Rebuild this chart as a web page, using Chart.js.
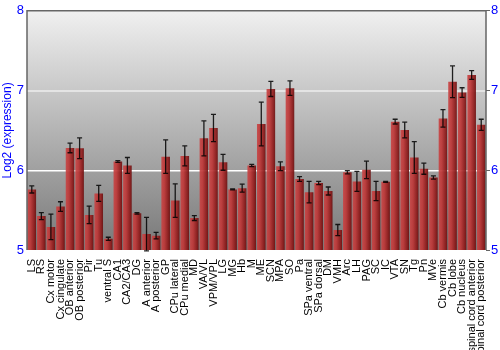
<!DOCTYPE html>
<html>
<head>
<meta charset="utf-8">
<script src="https://cdn.jsdelivr.net/npm/chart.js@4.4.1/dist/chart.umd.min.js"></script>
<style>
  html, body { margin: 0; padding: 0; background: #fff; }
  #wrap { width: 500px; height: 350px; }
</style>
</head>
<body>
<div id="wrap"><canvas id="exprChart"></canvas></div>
<script>
const regions = ['LS', 'RS', 'Cx motor', 'Cx cingulate', 'OB anterior', 'OB posterior', 'Pir', 'Tu',
    'ventral S', 'CA1', 'CA2/CA3', 'DG', 'A anterior', 'A posterior', 'GP', 'CPu lateral', 'CPu medial',
    'MD', 'VA/VL', 'VPM/VPL', 'LG', 'MG', 'Hb', 'M', 'ME', 'SCN', 'MPA', 'SO', 'Pa', 'SPa ventral',
    'SPa dorsal', 'DM', 'VMH', 'Arc', 'LH', 'PAG', 'SC', 'IC', 'VTA', 'SN', 'Tg', 'Pn', 'MVe',
    'Cb vermis', 'Cb lobe', 'Cb nucleus', 'spinal cord anterior', 'spinal cord posterior'];

const expression = [5.76, 5.425, 5.29, 5.545, 6.28, 6.275, 5.44, 5.71,
    5.14, 6.11, 6.06, 5.46, 5.2, 5.18, 6.17, 5.62, 6.18,
    5.4, 6.4, 6.53, 6.1, 5.76, 5.775, 6.06, 6.58, 7.02, 6.05, 7.03, 5.89, 5.725,
    5.84, 5.74, 5.25, 5.975, 5.86, 6.005, 5.74, 5.855, 6.61, 6.505, 6.16, 6.02, 5.91,
    6.65, 7.11, 6.975, 7.195, 6.57];

const errors = [0.045, 0.045, 0.16, 0.06, 0.06, 0.13, 0.11, 0.1,
    0.02, 0.01, 0.1, 0.01, 0.21, 0.04, 0.21, 0.21, 0.125,
    0.03, 0.22, 0.17, 0.1, 0.005, 0.05, 0.015, 0.275, 0.095, 0.055, 0.09, 0.03, 0.135,
    0.02, 0.05, 0.07, 0.02, 0.125, 0.11, 0.12, 0.005, 0.03, 0.1, 0.2, 0.07, 0.02,
    0.11, 0.2, 0.06, 0.055, 0.07];

const yTicks = [5, 6, 7, 8];

// gradient background behind plot
const bgPlugin = {
    id: 'plotBg',
    beforeDraw(chart) {
        const { ctx, chartArea: a } = chart;
        const g = ctx.createLinearGradient(0, a.top, 0, a.bottom);
        g.addColorStop(0, '#f0f0f0');
        g.addColorStop(1, '#787878');
        ctx.save();
        ctx.fillStyle = g;
        ctx.fillRect(a.left, a.top, a.right - a.left, a.bottom - a.top);
        ctx.restore();
    }
};

// error bars + frame
const errPlugin = {
    id: 'errBars',
    afterDatasetsDraw(chart) {
        const { ctx, chartArea: a } = chart;
        const xs = chart.scales.x, ys = chart.scales.y;
        ctx.save();
        ctx.strokeStyle = 'rgba(0,0,0,0.85)';
        ctx.lineWidth = 1.3;
        expression.forEach((v, i) => {
            const x = xs.getPixelForValue(i);
            const y1 = ys.getPixelForValue(v + errors[i]);
            const y2 = ys.getPixelForValue(v - errors[i]);
            ctx.beginPath();
            ctx.moveTo(x, y1); ctx.lineTo(x, y2);
            ctx.moveTo(x - 2.5, y1); ctx.lineTo(x + 2.5, y1);
            ctx.moveTo(x - 2.5, y2); ctx.lineTo(x + 2.5, y2);
            ctx.stroke();
        });
        ctx.strokeStyle = '#666';
        ctx.lineWidth = 1.5;
        ctx.beginPath();
        ctx.moveTo(a.left, a.bottom); ctx.lineTo(a.left, a.top);
        ctx.lineTo(a.right, a.top); ctx.lineTo(a.right, a.bottom);
        ctx.stroke();
        ctx.restore();
    }
};

const barFill = (c) => {
    const chart = c.chart;
    const xs = chart.scales.x;
    if (!xs || !chart.chartArea) return '#a02828';
    const x = xs.getPixelForValue(c.dataIndex);
    const w = (xs.width / regions.length) * 0.9;
    const g = chart.ctx.createLinearGradient(x - w / 2, 0, x + w / 2, 0);
    g.addColorStop(0, 'rgba(200,70,70,0.92)');
    g.addColorStop(0.35, 'rgba(190,55,55,0.92)');
    g.addColorStop(0.8, 'rgba(140,25,25,0.92)');
    g.addColorStop(1, 'rgba(105,15,15,0.92)');
    return g;
};

new Chart(document.getElementById('exprChart'), {
    type: 'bar',
    data: {
        labels: regions,
        datasets: [{
            label: 'Log2 (expression)',
            data: expression,
            backgroundColor: barFill,
            borderWidth: 0,
            barPercentage: 0.9,
            categoryPercentage: 1.0
        }]
    },
    options: {
        responsive: true,
        maintainAspectRatio: false,
        animation: false,
        layout: { padding: { top: 10, left: 0, right: 0, bottom: 0 } },
        plugins: {
            legend: { display: false },
            tooltip: { enabled: false }
        },
        scales: {
            x: {
                grid: { display: false },
                border: { display: false },
                ticks: {
                    color: '#000',
                    font: { family: 'Liberation Sans', size: 11 },
                    minRotation: 90,
                    maxRotation: 90,
                    autoSkip: false,
                    padding: 1
                },
                afterFit(s) { s.height = 100; }
            },
            y: {
                position: 'left',
                min: 5,
                max: 8,
                afterBuildTicks(s) { s.ticks = yTicks.map(v => ({ value: v })); },
                grid: {
                    color: (c) => {
                        if (!c.tick) return 'rgba(0,0,0,0)';
                        if (c.tick.value === 6) return '#ffffff';
                        if (c.tick.value === 7) return '#e4e4e4';
                        return 'rgba(0,0,0,0)';
                    },
                    lineWidth: (c) => (c.tick && c.tick.value === 7) ? 2 : 1.5,
                    drawTicks: false
                },
                border: { display: false },
                ticks: {
                    color: '#0000ff',
                    font: { family: 'Liberation Sans', size: 13 },
                    padding: 3
                },
                title: {
                    display: true,
                    text: 'Log2 (expression)',
                    color: '#0000ff',
                    font: { family: 'Liberation Sans', size: 12 },
                    padding: 0
                },
                afterFit(s) { s.width = 27; }
            },
            y2: {
                position: 'right',
                min: 5,
                max: 8,
                afterBuildTicks(s) { s.ticks = yTicks.map(v => ({ value: v })); },
                grid: { drawOnChartArea: false, color: '#666', tickLength: 4 },
                border: { display: false },
                ticks: {
                    color: '#0000ff',
                    font: { family: 'Liberation Sans', size: 13 },
                    padding: 1
                },
                afterFit(s) { s.width = 14; }
            }
        }
    },
    plugins: [bgPlugin, errPlugin]
});
</script>
</body>
</html>
